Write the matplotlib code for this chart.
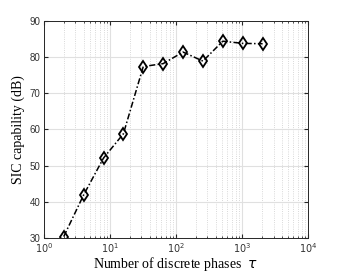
import matplotlib
matplotlib.use("Agg")
import matplotlib.pyplot as plt
from matplotlib.ticker import LogLocator, NullFormatter

x_vals = [2, 4, 8, 16, 32, 64, 128, 256, 512, 1024, 2048]
sic_db = [30.4, 41.9, 52.1, 58.8, 77.4, 78.2, 81.4, 78.9, 84.4, 83.8, 83.7]
y_ticks = [30, 40, 50, 60, 70, 80, 90]
x_ticks = [1, 10, 100, 1000, 10000]
x_tick_labels = ["$10^0$", "$10^1$", "$10^2$", "$10^3$", "$10^4$"]

fig = plt.figure(figsize=(3.4, 2.72), dpi=100)
ax = fig.add_axes([0.129, 0.125, 0.777, 0.798])
ax.set_xscale("log")
ax.plot(x_vals, sic_db, color="black", linestyle=(0, (4, 1.5, 1, 1.5)), linewidth=1.1,
        marker="d", markersize=6.5, markerfacecolor="none", markeredgecolor="black",
        markeredgewidth=1.3)
ax.set_xlim(1, 10000)
ax.set_ylim(30, 90)
ax.set_xticks(x_ticks)
ax.set_xticklabels(x_tick_labels)
ax.set_yticks(y_ticks)
ax.xaxis.set_minor_locator(LogLocator(base=10, subs=range(2, 10), numticks=20))
ax.xaxis.set_minor_formatter(NullFormatter())
ax.grid(True, which="major", color="#e0e0e0", linestyle="-", linewidth=0.8)
ax.grid(True, which="minor", axis="x", color="#cccccc", linestyle=":", linewidth=0.6)
ax.set_axisbelow(True)
ax.tick_params(which="both", direction="in", top=True, right=True, colors="#262626",
               labelsize=7, labelcolor="#333333")
ax.tick_params(which="major", length=3, pad=2.5)
ax.tick_params(which="minor", length=1.5)
for lab in ax.get_xticklabels() + ax.get_yticklabels():
    lab.set_fontfamily("Liberation Sans")
for s in ax.spines.values():
    s.set_color("#262626")
    s.set_linewidth(0.7)
ax.set_xlabel(r"Number of discrete phases  $\tau$", fontfamily="Liberation Serif",
              fontsize=10, labelpad=-0.5)
ax.set_ylabel("SIC capability (dB)", fontfamily="Liberation Serif", fontsize=10, labelpad=3)
fig.savefig("out.png", dpi=100)
